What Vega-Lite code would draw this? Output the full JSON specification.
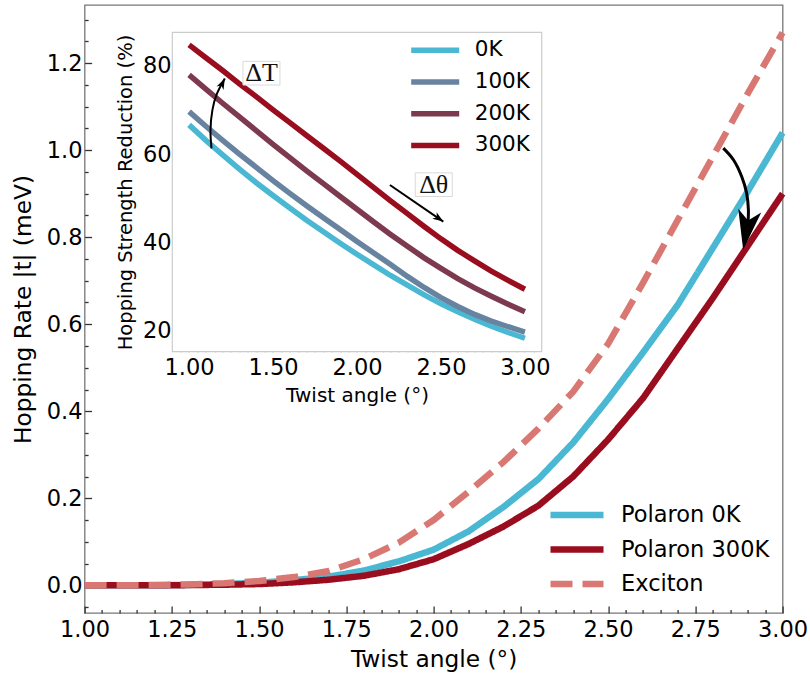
{
  "$schema": "https://vega.github.io/schema/vega-lite/v6.json",
  "width": 698,
  "height": 608,
  "autosize": {"type": "none"},
  "padding": {"left": 84.6, "top": 5, "right": 27.4, "bottom": 62},
  "background": "white",
  "config": {
    "font": "DejaVu Sans",
    "view": {"stroke": "#777777", "strokeWidth": 1.3},
    "axis": {"grid": false, "domain": false, "labelFont": "DejaVu Sans", "titleFont": "DejaVu Sans", "labelColor": "black", "titleColor": "black", "titleFontWeight": "normal", "labelOverlap": false, "labelFlush": false, "labelBound": false}
  },
  "datasets": {
    "main": [
      {"x":1.0,"y":0,"s":"Polaron 0K"},{"x":1.1,"y":0,"s":"Polaron 0K"},{"x":1.2,"y":0.0003,"s":"Polaron 0K"},{"x":1.3,"y":0.001,"s":"Polaron 0K"},{"x":1.4,"y":0.003,"s":"Polaron 0K"},{"x":1.5,"y":0.006,"s":"Polaron 0K"},{"x":1.6,"y":0.012,"s":"Polaron 0K"},{"x":1.7,"y":0.020,"s":"Polaron 0K"},{"x":1.8,"y":0.034,"s":"Polaron 0K"},{"x":1.9,"y":0.055,"s":"Polaron 0K"},{"x":2.0,"y":0.082,"s":"Polaron 0K"},{"x":2.1,"y":0.124,"s":"Polaron 0K"},{"x":2.2,"y":0.180,"s":"Polaron 0K"},{"x":2.3,"y":0.244,"s":"Polaron 0K"},{"x":2.4,"y":0.328,"s":"Polaron 0K"},{"x":2.5,"y":0.428,"s":"Polaron 0K"},{"x":2.6,"y":0.535,"s":"Polaron 0K"},{"x":2.7,"y":0.645,"s":"Polaron 0K"},{"x":2.8,"y":0.775,"s":"Polaron 0K"},{"x":2.9,"y":0.905,"s":"Polaron 0K"},{"x":3.0,"y":1.04,"s":"Polaron 0K"},
      {"x":1.0,"y":0,"s":"Polaron 300K"},{"x":1.1,"y":0,"s":"Polaron 300K"},{"x":1.2,"y":0.0002,"s":"Polaron 300K"},{"x":1.3,"y":0.0006,"s":"Polaron 300K"},{"x":1.4,"y":0.0015,"s":"Polaron 300K"},{"x":1.5,"y":0.003,"s":"Polaron 300K"},{"x":1.6,"y":0.007,"s":"Polaron 300K"},{"x":1.7,"y":0.013,"s":"Polaron 300K"},{"x":1.8,"y":0.022,"s":"Polaron 300K"},{"x":1.9,"y":0.037,"s":"Polaron 300K"},{"x":2.0,"y":0.060,"s":"Polaron 300K"},{"x":2.1,"y":0.095,"s":"Polaron 300K"},{"x":2.2,"y":0.135,"s":"Polaron 300K"},{"x":2.3,"y":0.183,"s":"Polaron 300K"},{"x":2.4,"y":0.250,"s":"Polaron 300K"},{"x":2.5,"y":0.335,"s":"Polaron 300K"},{"x":2.6,"y":0.43,"s":"Polaron 300K"},{"x":2.7,"y":0.545,"s":"Polaron 300K"},{"x":2.8,"y":0.66,"s":"Polaron 300K"},{"x":2.9,"y":0.78,"s":"Polaron 300K"},{"x":3.0,"y":0.90,"s":"Polaron 300K"},
      {"x":1.0,"y":0,"s":"Exciton"},{"x":1.1,"y":0.0002,"s":"Exciton"},{"x":1.2,"y":0.0008,"s":"Exciton"},{"x":1.3,"y":0.002,"s":"Exciton"},{"x":1.4,"y":0.005,"s":"Exciton"},{"x":1.5,"y":0.010,"s":"Exciton"},{"x":1.6,"y":0.019,"s":"Exciton"},{"x":1.7,"y":0.033,"s":"Exciton"},{"x":1.8,"y":0.060,"s":"Exciton"},{"x":1.9,"y":0.098,"s":"Exciton"},{"x":2.0,"y":0.150,"s":"Exciton"},{"x":2.1,"y":0.215,"s":"Exciton"},{"x":2.2,"y":0.283,"s":"Exciton"},{"x":2.3,"y":0.36,"s":"Exciton"},{"x":2.4,"y":0.445,"s":"Exciton"},{"x":2.5,"y":0.555,"s":"Exciton"},{"x":2.6,"y":0.695,"s":"Exciton"},{"x":2.7,"y":0.84,"s":"Exciton"},{"x":2.8,"y":0.985,"s":"Exciton"},{"x":2.9,"y":1.13,"s":"Exciton"},{"x":3.0,"y":1.27,"s":"Exciton"}
    ],
    "inset": [
      {"x":1.0,"y":66.6,"t":"0K"},{"x":1.1,"y":63.1,"t":"0K"},{"x":1.2,"y":59.8,"t":"0K"},{"x":1.3,"y":56.6,"t":"0K"},{"x":1.4,"y":53.5,"t":"0K"},{"x":1.5,"y":50.6,"t":"0K"},{"x":1.6,"y":47.8,"t":"0K"},{"x":1.7,"y":45.0,"t":"0K"},{"x":1.8,"y":42.4,"t":"0K"},{"x":1.9,"y":39.8,"t":"0K"},{"x":2.0,"y":37.3,"t":"0K"},{"x":2.1,"y":34.9,"t":"0K"},{"x":2.2,"y":32.5,"t":"0K"},{"x":2.3,"y":30.3,"t":"0K"},{"x":2.4,"y":28.1,"t":"0K"},{"x":2.5,"y":26.1,"t":"0K"},{"x":2.6,"y":24.3,"t":"0K"},{"x":2.7,"y":22.6,"t":"0K"},{"x":2.8,"y":21.0,"t":"0K"},{"x":2.9,"y":19.6,"t":"0K"},{"x":3.0,"y":18.3,"t":"0K"},
      {"x":1.0,"y":69.6,"t":"100K"},{"x":1.1,"y":66.3,"t":"100K"},{"x":1.2,"y":63.1,"t":"100K"},{"x":1.3,"y":60.0,"t":"100K"},{"x":1.4,"y":57.0,"t":"100K"},{"x":1.5,"y":54.0,"t":"100K"},{"x":1.6,"y":51.1,"t":"100K"},{"x":1.7,"y":48.3,"t":"100K"},{"x":1.8,"y":45.6,"t":"100K"},{"x":1.9,"y":42.9,"t":"100K"},{"x":2.0,"y":40.2,"t":"100K"},{"x":2.1,"y":37.6,"t":"100K"},{"x":2.2,"y":35.0,"t":"100K"},{"x":2.3,"y":32.3,"t":"100K"},{"x":2.4,"y":29.8,"t":"100K"},{"x":2.5,"y":27.5,"t":"100K"},{"x":2.6,"y":25.5,"t":"100K"},{"x":2.7,"y":23.7,"t":"100K"},{"x":2.8,"y":22.2,"t":"100K"},{"x":2.9,"y":20.9,"t":"100K"},{"x":3.0,"y":19.7,"t":"100K"},
      {"x":1.0,"y":77.9,"t":"200K"},{"x":1.1,"y":74.7,"t":"200K"},{"x":1.2,"y":71.5,"t":"200K"},{"x":1.3,"y":68.4,"t":"200K"},{"x":1.4,"y":65.3,"t":"200K"},{"x":1.5,"y":62.2,"t":"200K"},{"x":1.6,"y":59.2,"t":"200K"},{"x":1.7,"y":56.2,"t":"200K"},{"x":1.8,"y":53.3,"t":"200K"},{"x":1.9,"y":50.4,"t":"200K"},{"x":2.0,"y":47.5,"t":"200K"},{"x":2.1,"y":44.6,"t":"200K"},{"x":2.2,"y":41.8,"t":"200K"},{"x":2.3,"y":39.1,"t":"200K"},{"x":2.4,"y":36.5,"t":"200K"},{"x":2.5,"y":34.1,"t":"200K"},{"x":2.6,"y":31.8,"t":"200K"},{"x":2.7,"y":29.7,"t":"200K"},{"x":2.8,"y":27.8,"t":"200K"},{"x":2.9,"y":26.0,"t":"200K"},{"x":3.0,"y":24.3,"t":"200K"},
      {"x":1.0,"y":84.7,"t":"300K"},{"x":1.1,"y":81.8,"t":"300K"},{"x":1.2,"y":78.9,"t":"300K"},{"x":1.3,"y":75.9,"t":"300K"},{"x":1.4,"y":73.0,"t":"300K"},{"x":1.5,"y":70.0,"t":"300K"},{"x":1.6,"y":67.1,"t":"300K"},{"x":1.7,"y":64.2,"t":"300K"},{"x":1.8,"y":61.3,"t":"300K"},{"x":1.9,"y":58.4,"t":"300K"},{"x":2.0,"y":55.4,"t":"300K"},{"x":2.1,"y":52.4,"t":"300K"},{"x":2.2,"y":49.4,"t":"300K"},{"x":2.3,"y":46.5,"t":"300K"},{"x":2.4,"y":43.6,"t":"300K"},{"x":2.5,"y":40.8,"t":"300K"},{"x":2.6,"y":38.2,"t":"300K"},{"x":2.7,"y":35.8,"t":"300K"},{"x":2.8,"y":33.5,"t":"300K"},{"x":2.9,"y":31.4,"t":"300K"},{"x":3.0,"y":29.4,"t":"300K"}
    ],
    "arrowMain": [{"x":2.830,"y":1.0046,"i":0},{"x":2.859,"y":0.978,"i":1},{"x":2.883,"y":0.939,"i":2},{"x":2.897,"y":0.901,"i":3},{"x":2.902,"y":0.863,"i":4},{"x":2.901,"y":0.835,"i":5}],
    "headMain": [{"x":2.887,"y":0.771}],
    "arrowT": [{"x":1.1335,"y":61.3,"i":0},{"x":1.1275,"y":65.4,"i":1},{"x":1.139,"y":70.0,"i":2},{"x":1.163,"y":73.4,"i":3},{"x":1.2128,"y":77.1,"i":4}],
    "headT": [{"x":1.2128,"y":77.1}],
    "arrowTh": [{"x":2.196,"y":53.0,"i":0},{"x":2.514,"y":44.7,"i":1}],
    "headTh": [{"x":2.514,"y":44.7}],
    "labels": [{"x":1.431,"y":78.3,"label":"ΔT"},{"x":2.457,"y":53.06,"label":"Δθ"}]
  },
  "layer": [
    {
      "resolve": {"axis": {"x": "independent", "y": "independent"}},
      "layer": [
        {
          "data": {"name": "main"},
          "mark": {"type": "line", "strokeWidth": 6.5, "strokeCap": "butt"},
          "encoding": {
            "x": {"field": "x", "type": "quantitative", "scale": {"domain": [1, 3], "nice": false, "zero": false},
              "axis": {"orient": "bottom", "title": "Twist angle (°)", "values": [1,1.25,1.5,1.75,2,2.25,2.5,2.75,3], "format": ".2f",
                "labelOverlap": false, "labelFlush": false, "labelBound": false,
                "tickSize": {"condition": {"test": "true", "value": -7}, "value": -7},
                "tickColor": "#333333", "tickWidth": 1.3, "labelFontSize": 22.5, "titleFontSize": 23.3, "labelPadding": 12.6, "titleY": 46, "titleBaseline": "middle"}},
            "y": {"field": "y", "type": "quantitative", "scale": {"domain": [-0.0635, 1.3335], "nice": false, "zero": false},
              "axis": {"orient": "left", "title": "Hopping Rate |t| (meV)", "values": [0,0.2,0.4,0.6,0.8,1,1.2], "format": ".1f",
                "labelOverlap": false, "labelFlush": false, "labelBound": false,
                "tickSize": {"condition": {"test": "true", "value": -7}, "value": -7},
                "tickColor": "#333333", "tickWidth": 1.3, "labelFontSize": 22.5, "titleFontSize": 23.3, "labelPadding": 9.6, "titleX": -61.6, "titleBaseline": "middle"}},
            "color": {"field": "s", "type": "nominal", "sort": null,
              "scale": {"domain": ["Polaron 0K", "Polaron 300K", "Exciton"], "range": ["#4ab7d3", "#990d1e", "#d97872"]},
              "legend": {"title": null, "orient": "none", "legendX": 462.4, "legendY": 497, "symbolType": "stroke", "symbolSize": 2809, "symbolStrokeWidth": 6.5, "labelFontSize": 22.5, "labelFont": "DejaVu Sans", "labelColor": "black", "labelOffset": 14, "clipHeight": 26, "rowPadding": 8.5, "padding": 0, "labelLimit": 300}},
            "strokeDash": {"field": "s", "type": "nominal", "sort": null,
              "scale": {"domain": ["Polaron 0K", "Polaron 300K", "Exciton"], "range": [[1, 0], [1, 0], [22, 10]]},
              "legend": {"title": null, "orient": "none", "legendX": 462.4, "legendY": 497, "symbolType": "stroke", "symbolSize": 2809, "symbolStrokeWidth": 6.5, "labelFontSize": 22.5, "labelFont": "DejaVu Sans", "labelColor": "black", "labelOffset": 14, "clipHeight": 26, "rowPadding": 8.5, "padding": 0, "labelLimit": 300}}
          }
        },
        {
          "data": {"name": "arrowMain"},
          "mark": {"type": "line", "color": "black", "strokeWidth": 3, "interpolate": "catmull-rom"},
          "encoding": {
            "x": {"field": "x", "type": "quantitative", "scale": {"domain": [1, 3], "nice": false, "zero": false},
              "axis": {"orient": "bottom", "title": null, "labels": false, "values": [1.05,1.1,1.15,1.2,1.3,1.35,1.4,1.45,1.55,1.6,1.65,1.7,1.8,1.85,1.9,1.95,2.05,2.1,2.15,2.2,2.3,2.35,2.4,2.45,2.55,2.6,2.65,2.7,2.8,2.85,2.9,2.95],
                "tickSize": {"condition": {"test": "true", "value": -3.5}, "value": -3.5}, "tickColor": "#333333", "tickWidth": 1.3}},
            "y": {"field": "y", "type": "quantitative", "scale": {"domain": [-0.0635, 1.3335], "nice": false, "zero": false},
              "axis": {"orient": "left", "title": null, "labels": false, "values": [-0.05,0.05,0.1,0.15,0.25,0.3,0.35,0.45,0.5,0.55,0.65,0.7,0.75,0.85,0.9,0.95,1.05,1.1,1.15,1.25,1.3],
                "tickSize": {"condition": {"test": "true", "value": -3.5}, "value": -3.5}, "tickColor": "#333333", "tickWidth": 1.3}},
            "order": {"field": "i", "type": "quantitative"}
          }
        },
        {
          "data": {"name": "headMain"},
          "mark": {"type": "point", "shape": "M0,0L-0.52,-1.78L0,-1.33L0.52,-1.78Z", "size": 2000, "angle": 9.5, "filled": true, "color": "black", "opacity": 1},
          "encoding": {
            "x": {"field": "x", "type": "quantitative", "scale": {"domain": [1, 3], "nice": false, "zero": false}, "axis": null},
            "y": {"field": "y", "type": "quantitative", "scale": {"domain": [-0.0635, 1.3335], "nice": false, "zero": false}, "axis": null}
          }
        }
      ]
    },
    {
      "resolve": {"axis": {"x": "independent", "y": "independent"}},
      "layer": [
        {
          "data": {"values": [{}]},
          "mark": {"type": "rect", "fill": "white", "stroke": "#cccccc", "strokeWidth": 1.2},
          "encoding": {
            "x": {"datum": 0.9, "type": "quantitative", "scale": {"domain": [0.9, 3.1], "range": [87.7, 457.1], "nice": false, "zero": false}, "axis": null},
            "x2": {"datum": 3.1},
            "y": {"datum": 15.25, "type": "quantitative", "scale": {"domain": [15.25, 87.56], "range": [346.7, 27.3], "nice": false, "zero": false}, "axis": null},
            "y2": {"datum": 87.56}
          }
        },
        {
          "data": {"name": "inset"},
          "mark": {"type": "line", "strokeWidth": 5.5, "strokeCap": "butt"},
          "encoding": {
            "x": {"field": "x", "type": "quantitative", "scale": {"domain": [0.9, 3.1], "range": [87.7, 457.1], "nice": false, "zero": false},
              "axis": {"orient": "bottom", "offset": -261.3, "title": "Twist angle (°)", "values": [1,1.5,2,2.5,3], "format": ".2f",
                "labelOverlap": false, "labelFlush": false, "labelBound": false,
                "tickSize": {"condition": {"test": "true", "value": -4.5}, "value": -4.5},
                "tickColor": "#444444", "tickWidth": 1, "labelFontSize": 22.5, "titleFontSize": 20, "labelPadding": 9, "titleY": 43.3, "titleBaseline": "middle"}},
            "y": {"field": "y", "type": "quantitative", "scale": {"domain": [15.25, 87.56], "range": [346.7, 27.3], "nice": false, "zero": false},
              "axis": {"orient": "left", "offset": -87.7, "title": "Hopping Strength Reduction (%)", "values": [20,40,60,80], "format": "d",
                "labelOverlap": false, "labelFlush": false, "labelBound": false,
                "tickSize": {"condition": {"test": "true", "value": -4.5}, "value": -4.5},
                "tickColor": "#444444", "tickWidth": 1, "labelFontSize": 22.5, "titleFontSize": 19.5, "labelPadding": 5.6, "titleX": -46.3, "titleBaseline": "middle"}},
            "color": {"field": "t", "type": "nominal", "sort": null,
              "scale": {"domain": ["0K", "100K", "200K", "300K"], "range": ["#4ab7d3", "#6883a0", "#7d3a4f", "#990d1e"]},
              "legend": {"title": null, "orient": "none", "legendX": 323.6, "legendY": 33.3, "symbolType": "stroke", "symbolSize": 2304, "symbolStrokeWidth": 5.5, "labelFontSize": 21.5, "labelFont": "DejaVu Sans", "labelColor": "black", "labelOffset": 12.5, "clipHeight": 24, "rowPadding": 7.7, "padding": 0}}
          }
        },
        {
          "data": {"name": "arrowT"},
          "mark": {"type": "line", "color": "black", "strokeWidth": 2, "interpolate": "catmull-rom"},
          "encoding": {
            "x": {"field": "x", "type": "quantitative", "scale": {"domain": [0.9, 3.1], "range": [87.7, 457.1], "nice": false, "zero": false},
              "axis": {"orient": "bottom", "offset": -261.3, "title": null, "labels": false, "values": [0.95,1.05,1.1,1.15,1.2,1.25,1.3,1.35,1.4,1.45,1.55,1.6,1.65,1.7,1.75,1.8,1.85,1.9,1.95,2.05,2.1,2.15,2.2,2.25,2.3,2.35,2.4,2.45,2.55,2.6,2.65,2.7,2.75,2.8,2.85,2.9,2.95,3.05],
                "tickSize": {"condition": {"test": "abs(datum.value*4-round(datum.value*4))<0.001", "value": -4.5}, "value": -2.5},
                "tickColor": "#444444", "tickWidth": 1}},
            "y": {"field": "y", "type": "quantitative", "scale": {"domain": [15.25, 87.56], "range": [346.7, 27.3], "nice": false, "zero": false},
              "axis": {"orient": "left", "offset": -87.7, "title": null, "labels": false, "values": [16,18,22,24,26,28,30,32,34,36,38,42,44,46,48,50,52,54,56,58,62,64,66,68,70,72,74,76,78,82,84,86],
                "tickSize": {"condition": {"test": "datum.value % 10 == 0", "value": -4.5}, "value": -2.5},
                "tickColor": "#444444", "tickWidth": 1}},
            "order": {"field": "i", "type": "quantitative"}
          }
        },
        {
          "data": {"name": "headT"},
          "mark": {"type": "point", "shape": "M0,0L-0.65,-1.8L0,-1.3L0.65,-1.8Z", "size": 144, "angle": 206.4, "filled": true, "color": "black", "opacity": 1},
          "encoding": {
            "x": {"field": "x", "type": "quantitative", "scale": {"domain": [0.9, 3.1], "range": [87.7, 457.1], "nice": false, "zero": false}, "axis": null},
            "y": {"field": "y", "type": "quantitative", "scale": {"domain": [15.25, 87.56], "range": [346.7, 27.3], "nice": false, "zero": false}, "axis": null}
          }
        },
        {
          "data": {"name": "arrowTh"},
          "mark": {"type": "line", "color": "black", "strokeWidth": 2},
          "encoding": {
            "x": {"field": "x", "type": "quantitative", "scale": {"domain": [0.9, 3.1], "range": [87.7, 457.1], "nice": false, "zero": false}, "axis": null},
            "y": {"field": "y", "type": "quantitative", "scale": {"domain": [15.25, 87.56], "range": [346.7, 27.3], "nice": false, "zero": false}, "axis": null},
            "order": {"field": "i", "type": "quantitative"}
          }
        },
        {
          "data": {"name": "headTh"},
          "mark": {"type": "point", "shape": "M0,0L-0.65,-1.8L0,-1.3L0.65,-1.8Z", "size": 144, "angle": 304.5, "filled": true, "color": "black", "opacity": 1},
          "encoding": {
            "x": {"field": "x", "type": "quantitative", "scale": {"domain": [0.9, 3.1], "range": [87.7, 457.1], "nice": false, "zero": false}, "axis": null},
            "y": {"field": "y", "type": "quantitative", "scale": {"domain": [15.25, 87.56], "range": [346.7, 27.3], "nice": false, "zero": false}, "axis": null}
          }
        },
        {
          "data": {"name": "labels"},
          "mark": {"type": "point", "shape": "M-1,-0.64H1V0.64H-1Z", "size": 1369, "filled": true, "fill": "white", "stroke": "#d9d9d9", "strokeWidth": 1, "opacity": 1},
          "encoding": {
            "x": {"field": "x", "type": "quantitative", "scale": {"domain": [0.9, 3.1], "range": [87.7, 457.1], "nice": false, "zero": false}, "axis": null},
            "y": {"field": "y", "type": "quantitative", "scale": {"domain": [15.25, 87.56], "range": [346.7, 27.3], "nice": false, "zero": false}, "axis": null}
          }
        },
        {
          "data": {"name": "labels"},
          "mark": {"type": "text", "font": "Liberation Serif", "fontSize": 26, "color": "#111111", "align": "center", "baseline": "middle"},
          "encoding": {
            "x": {"field": "x", "type": "quantitative", "scale": {"domain": [0.9, 3.1], "range": [87.7, 457.1], "nice": false, "zero": false}, "axis": null},
            "y": {"field": "y", "type": "quantitative", "scale": {"domain": [15.25, 87.56], "range": [346.7, 27.3], "nice": false, "zero": false}, "axis": null},
            "text": {"field": "label"}
          }
        }
      ]
    }
  ],
  "resolve": {
    "scale": {"x": "independent", "y": "independent", "color": "independent", "strokeDash": "independent"},
    "axis": {"x": "independent", "y": "independent"},
    "legend": {"color": "independent", "strokeDash": "independent"}
  }
}
